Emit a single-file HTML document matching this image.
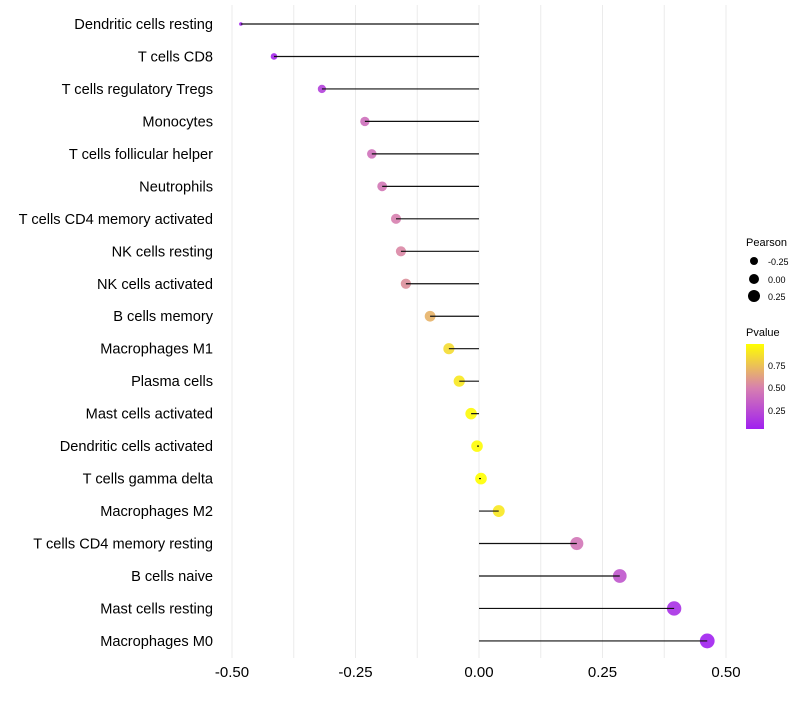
<!DOCTYPE html>
<html><head><meta charset="utf-8"><style>
body{margin:0;background:#fff;font-family:"Liberation Sans",sans-serif}
svg text{font-family:"Liberation Sans",sans-serif;fill:#000}
</style></head><body>
<svg id="chart" width="800" height="700">
<defs><linearGradient id="pg" x1="0" y1="1" x2="0" y2="0">
<stop offset="0" stop-color="#a020f0"/><stop offset="0.48" stop-color="#d77fb0"/><stop offset="1" stop-color="#ffff00"/>
</linearGradient></defs>
<g id="grid"></g>
<g id="marks"></g>
<g id="ylab"></g>
<g id="xlab"></g>
<g>
<text x="746" y="246" font-size="11">Pearson</text>
<circle cx="754" cy="261" r="4" fill="#000"/>
<text x="768" y="265" font-size="9">-0.25</text>
<circle cx="754" cy="279" r="5" fill="#000"/>
<text x="768" y="283" font-size="9">0.00</text>
<circle cx="754" cy="296" r="6" fill="#000"/>
<text x="768" y="300" font-size="9">0.25</text>
</g>
<g>
<text x="746" y="336" font-size="11">Pvalue</text>
<rect x="746" y="344" width="18" height="85" fill="url(#pg)"/>
<text x="768" y="369" font-size="9">0.75</text>
<text x="768" y="391" font-size="9">0.50</text>
<text x="768" y="414" font-size="9">0.25</text>
</g>
</svg>
<script>
const cells=["Dendritic cells resting","T cells CD8","T cells regulatory  Tregs","Monocytes","T cells follicular helper","Neutrophils","T cells CD4 memory activated","NK cells resting","NK cells activated","B cells memory","Macrophages M1","Plasma cells","Mast cells activated","Dendritic cells activated","T cells gamma delta","Macrophages M2","T cells CD4 memory resting","B cells naive","Mast cells resting","Macrophages M0"];
const pearson=[-0.482,-0.415,-0.318,-0.231,-0.217,-0.196,-0.168,-0.158,-0.148,-0.099,-0.061,-0.040,-0.016,-0.004,0.004,0.040,0.198,0.285,0.395,0.462];
const pvalue=[0.05,0.08,0.2,0.42,0.43,0.46,0.5,0.53,0.56,0.7,0.85,0.9,0.97,0.98,0.99,0.9,0.45,0.3,0.12,0.05];
const xTicks=[-0.5,-0.25,0,0.25,0.5];
const xTickLabels=["-0.50","-0.25","0.00","0.25","0.50"];
const NS="http://www.w3.org/2000/svg";
const X=v=>479+v*494;
const Y=i=>24+i*32.47;
const pmin=Math.min(...pearson),pmax=Math.max(...pearson);
function rad(v){const t=(v-pmin)/(pmax-pmin);return 1.8+5.6*Math.sqrt(Math.max(0,t));}
function col(p){const t=Math.max(0,Math.min(1,(p-0.045)/(0.99-0.045)));
 const a=[160,32,240],m=[215,127,176],b=[255,255,0];let c;
 if(t<0.48){const u=t/0.48;c=a.map((x,k)=>x+(m[k]-x)*u);}else{const u=(t-0.48)/0.52;c=m.map((x,k)=>x+(b[k]-x)*u);}
 return `rgb(${c.map(Math.round).join(',')})`;}
function mk(tag,at,parent){const e=document.createElementNS(NS,tag);for(const k in at)e.setAttribute(k,at[k]);document.getElementById(parent).appendChild(e);return e;}
for(let v=-0.5;v<=0.5001;v+=0.125){const l=mk('line',{x1:X(v),x2:X(v),y1:5,y2:658,stroke:'#ebebeb','stroke-width':1},'grid');

}
xTicks.forEach((v,i)=>{const t=mk('text',{x:X(v),y:677,'font-size':15,'text-anchor':'middle'},'xlab');t.textContent=xTickLabels[i];

});
cells.forEach((c,i)=>{const y=Y(i);
 const t=mk('text',{x:213,y:y+5,'font-size':14.6,'text-anchor':'end'},'ylab');t.textContent=c;
 
 
 const d=mk('circle',{cx:X(pearson[i]),cy:y,r:rad(pearson[i]),fill:col(pvalue[i]),'fill-opacity':0.9},'marks');
 
 
 const l=mk('line',{x1:X(0),x2:X(pearson[i]),y1:y,y2:y,stroke:'#111','stroke-width':1.2},'marks');
 
 
});
</script>
</body></html>
